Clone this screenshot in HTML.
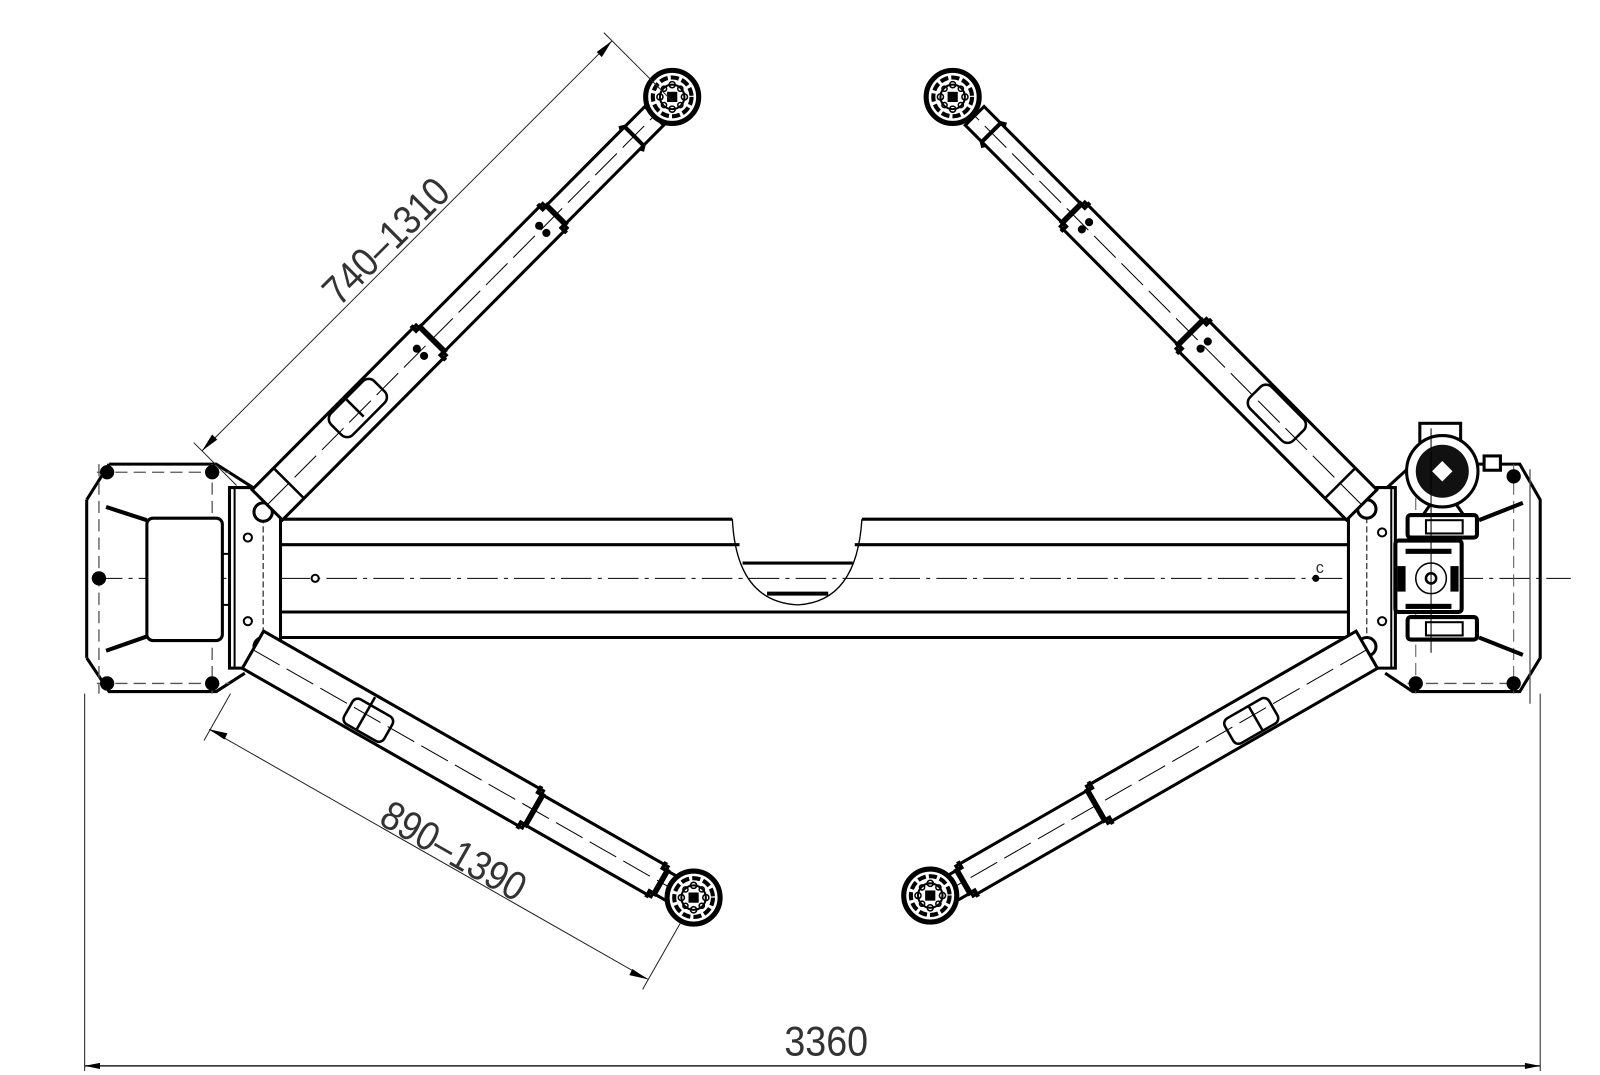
<!DOCTYPE html>
<html><head><meta charset="utf-8"><style>
html,body{margin:0;padding:0;background:#fff;}
svg{display:block;}
text{font-family:"Liberation Sans",sans-serif;fill:#333;}
</style></head><body>
<svg width="1600" height="1075" viewBox="0 0 1600 1075" xmlns="http://www.w3.org/2000/svg">
<defs>
  <g id="pad">
    <circle r="26" fill="#fff" stroke="#000" stroke-width="5"/>
    <circle r="19" fill="none" stroke="#000" stroke-width="4" stroke-dasharray="8 3"/>
    <circle r="12" fill="none" stroke="#000" stroke-width="2"/>
    <circle cx="0" cy="-12" r="3" fill="none" stroke="#000" stroke-width="1.5"/>
    <circle cx="0" cy="12" r="3" fill="none" stroke="#000" stroke-width="1.5"/>
    <circle cx="12" cy="0" r="3" fill="none" stroke="#000" stroke-width="1.5"/>
    <circle cx="-12" cy="0" r="3" fill="none" stroke="#000" stroke-width="1.5"/>
    <circle cx="8" cy="8" r="2.5" fill="none" stroke="#000" stroke-width="1.5"/>
    <circle cx="-8" cy="8" r="2.5" fill="none" stroke="#000" stroke-width="1.5"/>
    <circle cx="8" cy="-8" r="2.5" fill="none" stroke="#000" stroke-width="1.5"/>
    <circle cx="-8" cy="-8" r="2.5" fill="none" stroke="#000" stroke-width="1.5"/>
    <rect x="-5" y="-5" width="10" height="10" fill="#000"/>
  </g>
</defs>
<g transform="scale(1.02)" stroke-linecap="butt">
<line x1="90" y1="567" x2="1540" y2="567" stroke="#000" stroke-width="1" stroke-dasharray="30 6 4 6"/>

<!-- LEFT BASE -->
<path d="M107,455 L212,455 L248,478 M85,490 L85,645 M85,490 L107,455 M85,645 L107,678 L212,678 L240,660" fill="none" stroke="#000" stroke-width="3"/>
<line x1="95" y1="463" x2="225" y2="463" stroke="#555" stroke-width="1.3" stroke-dasharray="12 6"/>
<line x1="95" y1="670" x2="225" y2="670" stroke="#555" stroke-width="1.3" stroke-dasharray="12 6"/>
<line x1="97" y1="455" x2="97" y2="680" stroke="#555" stroke-width="1.3" stroke-dasharray="12 6"/>
<line x1="208" y1="455" x2="208" y2="680" stroke="#555" stroke-width="1.3" stroke-dasharray="12 6"/>
<g fill="#000"><circle cx="105" cy="463" r="7"/><circle cx="208" cy="463" r="7"/><circle cx="97" cy="567" r="7"/><circle cx="105" cy="670" r="7"/><circle cx="208" cy="670" r="7"/></g>
<rect x="144" y="508" width="74" height="120" rx="6" fill="#fff" stroke="#000" stroke-width="3"/>
<path d="M104,497 L144,510 M104,638 L144,624" stroke="#000" stroke-width="4"/>
<path d="M218,543 L225,543 L225,593 L218,593" fill="none" stroke="#000" stroke-width="2"/>
<path d="M225,478 L258,478 Q275,478 275,495 L275,640 Q275,655 258,655 L225,655 Z" fill="#fff" stroke="#000" stroke-width="3"/>
<line x1="230" y1="478" x2="230" y2="655" stroke="#000" stroke-width="2"/>
<line x1="258" y1="480" x2="258" y2="655" stroke="#000" stroke-width="1" stroke-dasharray="6 3"/>
<circle cx="258" cy="502" r="9" fill="#fff" stroke="#000" stroke-width="3"/>
<circle cx="258" cy="634" r="9" fill="#fff" stroke="#000" stroke-width="3"/>
<circle cx="243" cy="527" r="4" fill="#fff" stroke="#000" stroke-width="2"/>
<circle cx="243" cy="609" r="4" fill="#fff" stroke="#000" stroke-width="2"/>

<!-- BEAM -->
<g stroke="#000" stroke-width="3">
<line x1="275" y1="509" x2="718" y2="509"/><line x1="845" y1="509" x2="1322" y2="509"/>
<line x1="275" y1="534" x2="725" y2="534"/><line x1="838" y1="534" x2="1322" y2="534"/>
<line x1="275" y1="600" x2="1322" y2="600"/>
<line x1="275" y1="625" x2="1322" y2="625"/>
<line x1="728" y1="552" x2="836" y2="552"/>
<line x1="752" y1="582" x2="812" y2="582" stroke-width="4"/>
</g>
<path d="M718,509 Q722,590 782,593 Q840,590 845,509" fill="none" stroke="#000" stroke-width="1.3"/>
<circle cx="309" cy="567" r="3.5" fill="#fff" stroke="#000" stroke-width="2"/>
<circle cx="1290" cy="567" r="3.5" fill="#000"/>
<text x="1290" y="562" font-size="16">c</text>

<!-- RIGHT BASE -->
<path d="M1360,478 L1385,455 L1490,455 L1510,490 L1510,645 L1490,678 L1385,678 L1358,660" fill="none" stroke="#000" stroke-width="3"/>
<line x1="1380" y1="670" x2="1490" y2="670" stroke="#555" stroke-width="1.3" stroke-dasharray="12 6"/>
<line x1="1388" y1="470" x2="1388" y2="680" stroke="#555" stroke-width="1" stroke-dasharray="12 6"/>
<line x1="1484" y1="455" x2="1484" y2="680" stroke="#555" stroke-width="1" stroke-dasharray="12 6"/>
<line x1="1500" y1="460" x2="1500" y2="690" stroke="#555" stroke-width="1.3"/>
<g fill="#000"><circle cx="1484" cy="467" r="7"/><circle cx="1388" cy="670" r="7"/><circle cx="1484" cy="670" r="7"/></g>
<path d="M1450,510 L1493,493 M1450,625 L1493,642" stroke="#000" stroke-width="4"/>
<path d="M1368,478 L1338,478 Q1322,478 1322,495 L1322,640 Q1322,655 1338,655 L1368,655 Z" fill="#fff" stroke="#000" stroke-width="3"/>
<line x1="1364" y1="478" x2="1364" y2="655" stroke="#000" stroke-width="2"/>
<line x1="1340" y1="480" x2="1340" y2="655" stroke="#000" stroke-width="1" stroke-dasharray="6 3"/>
<circle cx="1340" cy="499" r="9" fill="#fff" stroke="#000" stroke-width="3"/>
<circle cx="1340" cy="634" r="9" fill="#fff" stroke="#000" stroke-width="3"/>
<circle cx="1355" cy="522" r="4" fill="#fff" stroke="#000" stroke-width="2"/>
<circle cx="1355" cy="609" r="4" fill="#fff" stroke="#000" stroke-width="2"/>
<!-- pump unit -->
<rect x="1392" y="415" width="40" height="22" fill="#fff" stroke="#000" stroke-width="3"/>
<rect x="1455" y="447" width="16" height="14" fill="#fff" stroke="#000" stroke-width="3"/>
<circle cx="1414" cy="462" r="35" fill="#fff" stroke="#000" stroke-width="3"/>
<circle cx="1414" cy="462" r="26" fill="#111"/>
<path d="M1414,452 L1424,462 L1414,472 L1404,462 Z" fill="#fff"/>
<path d="M1402,495 L1395,505 L1435,505 L1428,495" fill="none" stroke="#000" stroke-width="3"/>
<rect x="1380" y="505" width="68" height="22" rx="3" fill="#fff" stroke="#000" stroke-width="4"/>
<rect x="1398" y="510" width="36" height="13" fill="#fff" stroke="#000" stroke-width="2"/>
<rect x="1368" y="530" width="65" height="70" rx="3" fill="#fff" stroke="#000" stroke-width="4"/>
<circle cx="1403" cy="567" r="15" fill="none" stroke="#000" stroke-width="1.5"/>
<circle cx="1403" cy="567" r="5" fill="#fff" stroke="#000" stroke-width="2.5"/>
<rect x="1378" y="538" width="45" height="5" fill="#000"/>
<rect x="1378" y="592" width="45" height="5" fill="#000"/>
<rect x="1370" y="555" width="8" height="25" fill="#000"/>
<rect x="1422" y="555" width="8" height="25" fill="#000"/>
<rect x="1380" y="605" width="68" height="22" rx="3" fill="#fff" stroke="#000" stroke-width="4"/>
<rect x="1398" y="610" width="36" height="13" fill="#fff" stroke="#000" stroke-width="2"/>
<line x1="1403" y1="420" x2="1403" y2="640" stroke="#000" stroke-width="1"/>

<!-- upper-left arm -->
<g transform="translate(262,495) rotate(-45.15)">
  <g fill="#fff" stroke="#000" stroke-width="3">
    <rect x="0" y="-21" width="228" height="42"/>
    <rect x="228" y="-17" width="172" height="34"/>
    <rect x="400" y="-13" width="138" height="26"/>
  </g>
  <line x1="0" y1="0" x2="560" y2="0" stroke="#000" stroke-width="1" stroke-dasharray="30 8"/>
  <rect x="100" y="-19" width="60" height="30" rx="8" fill="none" stroke="#000" stroke-width="2.5"/>
  <line x1="30" y1="-20" x2="30" y2="20" stroke="#000" stroke-width="2.5"/>
  <line x1="128" y1="-19" x2="128" y2="6" stroke="#000" stroke-width="2.5"/>
  <path d="M224,-24 L224,-17 L230,-17 L230,17 L224,17 L224,24" fill="none" stroke="#000" stroke-width="4"/>
  <path d="M396,-20 L396,-13 L402,-13 L402,13 L396,13 L396,20" fill="none" stroke="#000" stroke-width="4"/>
  <path d="M505,-16 L510,-13 L510,13 L505,16" fill="none" stroke="#000" stroke-width="4"/>
  <circle cx="212" cy="-4" r="4" fill="#000"/><circle cx="212" cy="6" r="4" fill="#000"/>
  <circle cx="382" cy="-4" r="4" fill="#000"/><circle cx="382" cy="6" r="4" fill="#000"/>
</g>
<!-- upper-right arm -->
<g transform="translate(1335,495) rotate(-134.85)">
  <g fill="#fff" stroke="#000" stroke-width="3">
    <rect x="0" y="-21" width="237" height="42"/>
    <rect x="237" y="-17" width="165" height="34"/>
    <rect x="402" y="-13" width="136" height="26"/>
  </g>
  <line x1="0" y1="0" x2="560" y2="0" stroke="#000" stroke-width="1" stroke-dasharray="30 8"/>
  <rect x="92" y="-11" width="60" height="30" rx="8" fill="none" stroke="#000" stroke-width="2.5"/>
  <line x1="30" y1="-20" x2="30" y2="20" stroke="#000" stroke-width="2.5"/>
  <path d="M233,-24 L233,-17 L239,-17 L239,17 L233,17 L233,24" fill="none" stroke="#000" stroke-width="4"/>
  <path d="M398,-20 L398,-13 L404,-13 L404,13 L398,13 L398,20" fill="none" stroke="#000" stroke-width="4"/>
  <path d="M510,-16 L515,-13 L515,13 L510,16" fill="none" stroke="#000" stroke-width="4"/>
  <circle cx="220" cy="-4" r="4" fill="#000"/><circle cx="220" cy="6" r="4" fill="#000"/>
  <circle cx="385" cy="-4" r="4" fill="#000"/><circle cx="385" cy="6" r="4" fill="#000"/>
</g>
<!-- lower-left arm -->
<g transform="translate(248,637) rotate(29.7)">
  <g fill="#fff" stroke="#000" stroke-width="3">
    <rect x="0" y="-21" width="316" height="42"/>
    <rect x="316" y="-17" width="143" height="34"/>
    <rect x="459" y="-13" width="31" height="26"/>
  </g>
  <line x1="0" y1="0" x2="490" y2="0" stroke="#000" stroke-width="1" stroke-dasharray="30 8"/>
  <rect x="110" y="-10" width="45" height="28" rx="6" fill="none" stroke="#000" stroke-width="2.5"/>
  <line x1="127" y1="-19" x2="127" y2="17" stroke="#000" stroke-width="2.5"/>
  <path d="M312,-24 L312,-17 L318,-17 L318,17 L312,17 L312,24" fill="none" stroke="#000" stroke-width="4"/>
  <path d="M455,-20 L455,-13 L461,-13 L461,13 L455,13 L455,20" fill="none" stroke="#000" stroke-width="4"/>
</g>
<!-- lower-right arm -->
<g transform="translate(1340,637) rotate(150.1)">
  <g fill="#fff" stroke="#000" stroke-width="3">
    <rect x="0" y="-21" width="305" height="42"/>
    <rect x="305" y="-17" width="150" height="34"/>
    <rect x="455" y="-13" width="30" height="26"/>
  </g>
  <line x1="0" y1="0" x2="490" y2="0" stroke="#000" stroke-width="1" stroke-dasharray="30 8"/>
  <rect x="108" y="-18" width="50" height="28" rx="6" fill="none" stroke="#000" stroke-width="2.5"/>
  <line x1="128" y1="-18" x2="128" y2="10" stroke="#000" stroke-width="2.5"/>
  <path d="M301,-24 L301,-17 L307,-17 L307,17 L301,17 L301,24" fill="none" stroke="#000" stroke-width="4"/>
  <path d="M451,-20 L451,-13 L457,-13 L457,13 L451,13 L451,20" fill="none" stroke="#000" stroke-width="4"/>
</g>

<use href="#pad" x="659" y="95"/>
<use href="#pad" x="934" y="95"/>
<use href="#pad" x="680" y="880"/>
<use href="#pad" x="912" y="878"/>

<g stroke="#222" stroke-width="1">
  <line x1="198" y1="442" x2="600" y2="40"/>
  <line x1="190" y1="434" x2="232" y2="476"/>
  <line x1="592" y1="32" x2="660" y2="100"/>
  <line x1="205" y1="715" x2="635" y2="960"/>
  <line x1="200" y1="726" x2="226" y2="680"/>
  <line x1="630" y1="970" x2="667" y2="905"/>
  <line x1="83" y1="680" x2="83" y2="1050"/>
  <line x1="1510" y1="680" x2="1510" y2="1050"/>
  <line x1="83" y1="1045" x2="1510" y2="1045" stroke-width="1.5"/>
</g>
<g fill="#000">
  <path d="M198,442 L208,426 L213,431 Z"/>
  <path d="M600,40 L585,51 L590,56 Z"/>
  <path d="M205,715 L223,719 L220,725 Z"/>
  <path d="M635,960 L617,956 L620,950 Z"/>
  <path d="M83,1045 L98,1042 L98,1048 Z"/>
  <path d="M1510,1045 L1495,1042 L1495,1048 Z"/>
</g>
<text transform="translate(388,246) rotate(-45) scale(0.88,1)" font-size="40" text-anchor="middle">740–1310</text>
<text transform="translate(438,846) rotate(29.7) scale(0.88,1)" font-size="40" text-anchor="middle">890–1390</text>
<text transform="translate(810,1035) scale(0.9,1)" font-size="41" text-anchor="middle">3360</text>
</g>
</svg>
</body></html>
